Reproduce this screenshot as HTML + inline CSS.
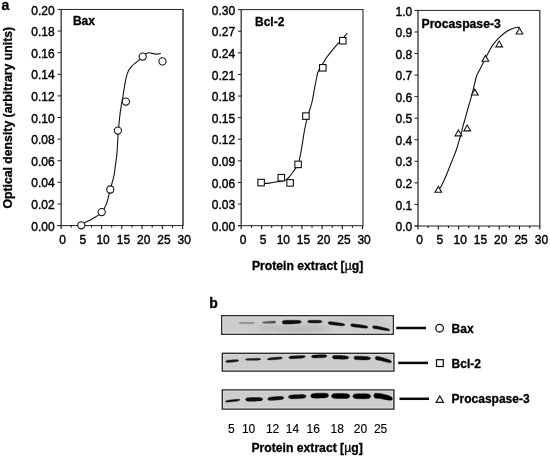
<!DOCTYPE html>
<html><head><meta charset="utf-8"><style>
html,body{margin:0;padding:0;background:#fff;}
body{width:550px;height:456px;overflow:hidden;}
svg{display:block;filter:grayscale(1);font-family:"Liberation Sans", sans-serif;fill:#111;}
svg text{fill:#000;stroke:#000;stroke-width:0.4px;} svg text[font-weight=bold]{stroke-width:0.3px;}
</style></head><body>
<svg width="550" height="456" viewBox="0 0 550 456">
<defs><filter id="bl" filterUnits="userSpaceOnUse" x="0" y="0" width="550" height="456"><feGaussianBlur stdDeviation="0.7"/></filter><filter id="bl2" filterUnits="userSpaceOnUse" x="0" y="0" width="550" height="456"><feGaussianBlur stdDeviation="0.5"/></filter></defs>
<rect width="550" height="456" fill="#fff"/>
<path d="M61.00,9.45 H183.00" fill="none" stroke="#222" stroke-width="1"/>
<path d="M183.00,8.95 V226.10" fill="none" stroke="#333" stroke-width="1.50"/>
<path d="M61.17,9.45 V229.10" fill="none" stroke="#333" stroke-width="1.3"/>
<path d="M57.50,225.60 H182.60" fill="none" stroke="#222" stroke-width="1"/>
<path d="M57.50,225.60 H61.00" stroke="#222" stroke-width="1"/>
<text x="54.60" y="230.70" text-anchor="end" font-size="12">0.00</text>
<path d="M57.50,203.98 H61.00" stroke="#222" stroke-width="1"/>
<text x="54.60" y="209.08" text-anchor="end" font-size="12">0.02</text>
<path d="M57.50,182.37 H61.00" stroke="#222" stroke-width="1"/>
<text x="54.60" y="187.47" text-anchor="end" font-size="12">0.04</text>
<path d="M57.50,160.75 H61.00" stroke="#222" stroke-width="1"/>
<text x="54.60" y="165.85" text-anchor="end" font-size="12">0.06</text>
<path d="M57.50,139.14 H61.00" stroke="#222" stroke-width="1"/>
<text x="54.60" y="144.24" text-anchor="end" font-size="12">0.08</text>
<path d="M57.50,117.52 H61.00" stroke="#222" stroke-width="1"/>
<text x="54.60" y="122.62" text-anchor="end" font-size="12">0.10</text>
<path d="M57.50,95.91 H61.00" stroke="#222" stroke-width="1"/>
<text x="54.60" y="101.01" text-anchor="end" font-size="12">0.12</text>
<path d="M57.50,74.29 H61.00" stroke="#222" stroke-width="1"/>
<text x="54.60" y="79.39" text-anchor="end" font-size="12">0.14</text>
<path d="M57.50,52.68 H61.00" stroke="#222" stroke-width="1"/>
<text x="54.60" y="57.78" text-anchor="end" font-size="12">0.16</text>
<path d="M57.50,31.06 H61.00" stroke="#222" stroke-width="1"/>
<text x="54.60" y="36.16" text-anchor="end" font-size="12">0.18</text>
<path d="M57.50,9.45 H61.00" stroke="#222" stroke-width="1"/>
<text x="54.60" y="14.55" text-anchor="end" font-size="12">0.20</text>
<text x="62.60" y="243.60" text-anchor="middle" font-size="12">0</text>
<path d="M71.13,225.60 V227.60" stroke="#111" stroke-width="1.1"/>
<path d="M81.27,225.60 V229.10" stroke="#111" stroke-width="1.1"/>
<text x="82.87" y="243.60" text-anchor="middle" font-size="12">5</text>
<path d="M91.40,225.60 V227.60" stroke="#111" stroke-width="1.1"/>
<path d="M101.53,225.60 V229.10" stroke="#111" stroke-width="1.1"/>
<text x="103.13" y="243.60" text-anchor="middle" font-size="12">10</text>
<path d="M111.67,225.60 V227.60" stroke="#111" stroke-width="1.1"/>
<path d="M121.80,225.60 V229.10" stroke="#111" stroke-width="1.1"/>
<text x="123.40" y="243.60" text-anchor="middle" font-size="12">15</text>
<path d="M131.93,225.60 V227.60" stroke="#111" stroke-width="1.1"/>
<path d="M142.07,225.60 V229.10" stroke="#111" stroke-width="1.1"/>
<text x="143.67" y="243.60" text-anchor="middle" font-size="12">20</text>
<path d="M152.20,225.60 V227.60" stroke="#111" stroke-width="1.1"/>
<path d="M162.33,225.60 V229.10" stroke="#111" stroke-width="1.1"/>
<text x="163.93" y="243.60" text-anchor="middle" font-size="12">25</text>
<path d="M172.47,225.60 V227.60" stroke="#111" stroke-width="1.1"/>
<path d="M182.60,225.60 V229.10" stroke="#111" stroke-width="1.1"/>
<text x="184.20" y="243.60" text-anchor="middle" font-size="12">30</text>
<text x="72.90" y="24.60" font-size="12.00" font-weight="bold">Bax</text>
<path d="M241.40,9.60 H363.00" fill="none" stroke="#222" stroke-width="1"/>
<path d="M363.00,9.10 V226.20" fill="none" stroke="#333" stroke-width="1.16"/>
<path d="M241.20,9.60 V229.20" fill="none" stroke="#333" stroke-width="1.3"/>
<path d="M237.90,225.70 H362.50" fill="none" stroke="#222" stroke-width="1"/>
<path d="M237.90,225.70 H241.40" stroke="#222" stroke-width="1"/>
<text x="235.20" y="230.80" text-anchor="end" font-size="12">0.00</text>
<path d="M237.90,204.09 H241.40" stroke="#222" stroke-width="1"/>
<text x="235.20" y="209.19" text-anchor="end" font-size="12">0.03</text>
<path d="M237.90,182.48 H241.40" stroke="#222" stroke-width="1"/>
<text x="235.20" y="187.58" text-anchor="end" font-size="12">0.06</text>
<path d="M237.90,160.87 H241.40" stroke="#222" stroke-width="1"/>
<text x="235.20" y="165.97" text-anchor="end" font-size="12">0.09</text>
<path d="M237.90,139.26 H241.40" stroke="#222" stroke-width="1"/>
<text x="235.20" y="144.36" text-anchor="end" font-size="12">0.12</text>
<path d="M237.90,117.65 H241.40" stroke="#222" stroke-width="1"/>
<text x="235.20" y="122.75" text-anchor="end" font-size="12">0.15</text>
<path d="M237.90,96.04 H241.40" stroke="#222" stroke-width="1"/>
<text x="235.20" y="101.14" text-anchor="end" font-size="12">0.18</text>
<path d="M237.90,74.43 H241.40" stroke="#222" stroke-width="1"/>
<text x="235.20" y="79.53" text-anchor="end" font-size="12">0.21</text>
<path d="M237.90,52.82 H241.40" stroke="#222" stroke-width="1"/>
<text x="235.20" y="57.92" text-anchor="end" font-size="12">0.24</text>
<path d="M237.90,31.21 H241.40" stroke="#222" stroke-width="1"/>
<text x="235.20" y="36.31" text-anchor="end" font-size="12">0.27</text>
<path d="M237.90,9.60 H241.40" stroke="#222" stroke-width="1"/>
<text x="235.20" y="14.70" text-anchor="end" font-size="12">0.30</text>
<text x="243.00" y="243.70" text-anchor="middle" font-size="12">0</text>
<path d="M251.49,225.70 V227.70" stroke="#111" stroke-width="1.1"/>
<path d="M261.58,225.70 V229.20" stroke="#111" stroke-width="1.1"/>
<text x="263.18" y="243.70" text-anchor="middle" font-size="12">5</text>
<path d="M271.68,225.70 V227.70" stroke="#111" stroke-width="1.1"/>
<path d="M281.77,225.70 V229.20" stroke="#111" stroke-width="1.1"/>
<text x="283.37" y="243.70" text-anchor="middle" font-size="12">10</text>
<path d="M291.86,225.70 V227.70" stroke="#111" stroke-width="1.1"/>
<path d="M301.95,225.70 V229.20" stroke="#111" stroke-width="1.1"/>
<text x="303.55" y="243.70" text-anchor="middle" font-size="12">15</text>
<path d="M312.04,225.70 V227.70" stroke="#111" stroke-width="1.1"/>
<path d="M322.13,225.70 V229.20" stroke="#111" stroke-width="1.1"/>
<text x="323.73" y="243.70" text-anchor="middle" font-size="12">20</text>
<path d="M332.23,225.70 V227.70" stroke="#111" stroke-width="1.1"/>
<path d="M342.32,225.70 V229.20" stroke="#111" stroke-width="1.1"/>
<text x="343.92" y="243.70" text-anchor="middle" font-size="12">25</text>
<path d="M352.41,225.70 V227.70" stroke="#111" stroke-width="1.1"/>
<path d="M362.50,225.70 V229.20" stroke="#111" stroke-width="1.1"/>
<text x="364.10" y="243.70" text-anchor="middle" font-size="12">30</text>
<text x="255.00" y="25.50" font-size="12.00" font-weight="bold">Bcl-2</text>
<path d="M418.00,10.40 H539.80" fill="none" stroke="#222" stroke-width="1"/>
<path d="M539.80,9.90 V226.50" fill="none" stroke="#333" stroke-width="1.25"/>
<path d="M418.00,10.40 V229.50" fill="none" stroke="#333" stroke-width="1.3"/>
<path d="M414.50,226.00 H539.80" fill="none" stroke="#222" stroke-width="1"/>
<path d="M414.50,226.00 H418.00" stroke="#222" stroke-width="1"/>
<text x="412.30" y="231.10" text-anchor="end" font-size="12">0.0</text>
<path d="M414.50,204.44 H418.00" stroke="#222" stroke-width="1"/>
<text x="412.30" y="209.54" text-anchor="end" font-size="12">0.1</text>
<path d="M414.50,182.88 H418.00" stroke="#222" stroke-width="1"/>
<text x="412.30" y="187.98" text-anchor="end" font-size="12">0.2</text>
<path d="M414.50,161.32 H418.00" stroke="#222" stroke-width="1"/>
<text x="412.30" y="166.42" text-anchor="end" font-size="12">0.3</text>
<path d="M414.50,139.76 H418.00" stroke="#222" stroke-width="1"/>
<text x="412.30" y="144.86" text-anchor="end" font-size="12">0.4</text>
<path d="M414.50,118.20 H418.00" stroke="#222" stroke-width="1"/>
<text x="412.30" y="123.30" text-anchor="end" font-size="12">0.5</text>
<path d="M414.50,96.64 H418.00" stroke="#222" stroke-width="1"/>
<text x="412.30" y="101.74" text-anchor="end" font-size="12">0.6</text>
<path d="M414.50,75.08 H418.00" stroke="#222" stroke-width="1"/>
<text x="412.30" y="80.18" text-anchor="end" font-size="12">0.7</text>
<path d="M414.50,53.52 H418.00" stroke="#222" stroke-width="1"/>
<text x="412.30" y="58.62" text-anchor="end" font-size="12">0.8</text>
<path d="M414.50,31.96 H418.00" stroke="#222" stroke-width="1"/>
<text x="412.30" y="37.06" text-anchor="end" font-size="12">0.9</text>
<path d="M414.50,10.40 H418.00" stroke="#222" stroke-width="1"/>
<text x="412.30" y="15.50" text-anchor="end" font-size="12">1.0</text>
<text x="419.60" y="244.00" text-anchor="middle" font-size="12">0</text>
<path d="M428.15,226.00 V228.00" stroke="#111" stroke-width="1.1"/>
<path d="M438.30,226.00 V229.50" stroke="#111" stroke-width="1.1"/>
<text x="439.90" y="244.00" text-anchor="middle" font-size="12">5</text>
<path d="M448.45,226.00 V228.00" stroke="#111" stroke-width="1.1"/>
<path d="M458.60,226.00 V229.50" stroke="#111" stroke-width="1.1"/>
<text x="460.20" y="244.00" text-anchor="middle" font-size="12">10</text>
<path d="M468.75,226.00 V228.00" stroke="#111" stroke-width="1.1"/>
<path d="M478.90,226.00 V229.50" stroke="#111" stroke-width="1.1"/>
<text x="480.50" y="244.00" text-anchor="middle" font-size="12">15</text>
<path d="M489.05,226.00 V228.00" stroke="#111" stroke-width="1.1"/>
<path d="M499.20,226.00 V229.50" stroke="#111" stroke-width="1.1"/>
<text x="500.80" y="244.00" text-anchor="middle" font-size="12">20</text>
<path d="M509.35,226.00 V228.00" stroke="#111" stroke-width="1.1"/>
<path d="M519.50,226.00 V229.50" stroke="#111" stroke-width="1.1"/>
<text x="521.10" y="244.00" text-anchor="middle" font-size="12">25</text>
<path d="M529.65,226.00 V228.00" stroke="#111" stroke-width="1.1"/>
<path d="M539.80,226.00 V229.50" stroke="#111" stroke-width="1.1"/>
<text x="541.40" y="244.00" text-anchor="middle" font-size="12">30</text>
<text x="421.50" y="27.60" font-size="12.20" font-weight="bold">Procaspase-3</text>
<path d="M81.30,225.30 C81.90,224.85 83.32,223.53 84.90,222.60 C86.48,221.67 88.62,220.90 90.80,219.70 C92.98,218.50 96.18,216.67 98.00,215.40 C99.82,214.13 100.65,213.23 101.70,212.10 C102.75,210.97 103.38,210.35 104.30,208.60 C105.22,206.85 106.20,204.78 107.20,201.60 C108.20,198.42 109.45,192.77 110.30,189.50 C111.15,186.23 111.67,184.42 112.30,182.00 C112.93,179.58 113.57,177.83 114.10,175.00 C114.63,172.17 115.05,168.33 115.50,165.00 C115.95,161.67 116.47,158.33 116.80,155.00 C117.13,151.67 117.27,148.67 117.50,145.00 C117.73,141.33 117.85,137.50 118.20,133.00 C118.55,128.50 119.15,122.18 119.60,118.00 C120.05,113.82 120.40,111.12 120.90,107.90 C121.40,104.68 122.05,101.98 122.60,98.70 C123.15,95.42 123.60,91.72 124.20,88.20 C124.80,84.68 125.47,80.53 126.20,77.60 C126.93,74.67 127.62,72.57 128.60,70.60 C129.58,68.63 130.87,67.15 132.10,65.80 C133.33,64.45 134.80,63.48 136.00,62.50 C137.20,61.52 138.18,60.88 139.30,59.90 C140.42,58.92 141.52,57.67 142.70,56.60 C143.88,55.53 145.35,54.15 146.40,53.50 C147.45,52.85 147.72,52.65 149.00,52.70 C150.28,52.75 152.80,53.57 154.10,53.80 C155.40,54.03 155.67,54.18 156.80,54.10 C157.93,54.02 160.22,53.43 160.90,53.30" fill="none" stroke="#111" stroke-width="1.1"/>
<path d="M264.50,183.40 C265.35,183.35 267.47,183.38 269.60,183.10 C271.73,182.82 275.12,182.05 277.30,181.70 C279.48,181.35 281.25,181.30 282.70,181.00 C284.15,180.70 284.90,180.60 286.00,179.90 C287.10,179.20 288.22,178.03 289.30,176.80 C290.38,175.57 291.45,173.90 292.50,172.50 C293.55,171.10 294.58,170.02 295.60,168.40 C296.62,166.78 297.68,165.63 298.60,162.80 C299.52,159.97 300.23,156.15 301.10,151.40 C301.97,146.65 303.02,138.87 303.80,134.30 C304.58,129.73 305.18,126.72 305.80,124.00 C306.42,121.28 306.92,120.13 307.50,118.00 C308.08,115.87 308.55,113.87 309.30,111.20 C310.05,108.53 311.12,105.83 312.00,102.00 C312.88,98.17 313.87,92.03 314.60,88.20 C315.33,84.37 315.87,81.62 316.40,79.00 C316.93,76.38 317.12,74.42 317.80,72.50 C318.48,70.58 319.65,69.00 320.50,67.50 C321.35,66.00 321.92,65.12 322.90,63.50 C323.88,61.88 325.08,59.70 326.40,57.80 C327.72,55.90 329.42,53.85 330.80,52.10 C332.18,50.35 333.38,48.83 334.70,47.30 C336.02,45.77 337.55,44.08 338.70,42.90 C339.85,41.72 340.70,41.22 341.60,40.20 C342.50,39.18 343.17,37.97 344.10,36.80 C345.03,35.63 346.68,33.80 347.20,33.20" fill="none" stroke="#111" stroke-width="1.1"/>
<path d="M439.00,189.40 C439.43,188.73 440.37,187.80 441.60,185.40 C442.83,183.00 444.75,178.90 446.40,175.00 C448.05,171.10 449.85,166.17 451.50,162.00 C453.15,157.83 455.02,153.62 456.30,150.00 C457.58,146.38 458.33,143.22 459.20,140.30 C460.07,137.38 460.90,134.78 461.50,132.50 C462.10,130.22 462.25,128.68 462.80,126.60 C463.35,124.52 464.02,122.77 464.80,120.00 C465.58,117.23 466.37,114.03 467.50,110.00 C468.63,105.97 470.60,99.38 471.60,95.80 C472.60,92.22 472.67,91.80 473.50,88.50 C474.33,85.20 475.43,79.38 476.60,76.00 C477.77,72.62 479.30,70.60 480.50,68.20 C481.70,65.80 482.70,63.80 483.80,61.60 C484.90,59.40 485.88,57.30 487.10,55.00 C488.32,52.70 490.00,49.67 491.10,47.80 C492.20,45.93 492.40,45.45 493.70,43.80 C495.00,42.15 497.15,39.65 498.90,37.90 C500.65,36.15 502.55,34.58 504.20,33.30 C505.85,32.02 507.25,31.05 508.80,30.20 C510.35,29.35 512.12,28.67 513.50,28.20 C514.88,27.73 516.05,27.57 517.10,27.40 C518.15,27.23 519.35,27.23 519.80,27.20" fill="none" stroke="#111" stroke-width="1.1"/>
<circle cx="81.30" cy="225.30" r="3.6" fill="#fff" stroke="#111" stroke-width="1.1"/>
<circle cx="101.70" cy="212.10" r="3.6" fill="#fff" stroke="#111" stroke-width="1.1"/>
<circle cx="110.30" cy="189.50" r="3.6" fill="#fff" stroke="#111" stroke-width="1.1"/>
<circle cx="117.90" cy="130.60" r="3.6" fill="#fff" stroke="#111" stroke-width="1.1"/>
<circle cx="125.90" cy="101.60" r="3.6" fill="#fff" stroke="#111" stroke-width="1.1"/>
<circle cx="142.70" cy="56.60" r="3.6" fill="#fff" stroke="#111" stroke-width="1.1"/>
<circle cx="162.50" cy="61.40" r="3.6" fill="#fff" stroke="#111" stroke-width="1.1"/>
<rect x="257.85" y="179.35" width="6.5" height="6.5" fill="#fff" stroke="#111" stroke-width="1.1"/>
<rect x="278.05" y="174.45" width="6.5" height="6.5" fill="#fff" stroke="#111" stroke-width="1.1"/>
<rect x="286.85" y="179.65" width="6.5" height="6.5" fill="#fff" stroke="#111" stroke-width="1.1"/>
<rect x="294.85" y="161.15" width="6.5" height="6.5" fill="#fff" stroke="#111" stroke-width="1.1"/>
<rect x="302.65" y="112.85" width="6.5" height="6.5" fill="#fff" stroke="#111" stroke-width="1.1"/>
<rect x="319.55" y="64.55" width="6.5" height="6.5" fill="#fff" stroke="#111" stroke-width="1.1"/>
<rect x="339.55" y="37.45" width="6.5" height="6.5" fill="#fff" stroke="#111" stroke-width="1.1"/>
<path d="M438.30,186.45 L434.95,192.30 L441.65,192.30 Z" fill="#fff" stroke="#111" stroke-width="1.1" stroke-linejoin="miter"/>
<path d="M458.40,130.00 L455.05,135.85 L461.75,135.85 Z" fill="#fff" stroke="#111" stroke-width="1.1" stroke-linejoin="miter"/>
<path d="M467.20,125.00 L463.85,130.85 L470.55,130.85 Z" fill="#fff" stroke="#111" stroke-width="1.1" stroke-linejoin="miter"/>
<path d="M474.80,89.20 L471.45,95.05 L478.15,95.05 Z" fill="#fff" stroke="#111" stroke-width="1.1" stroke-linejoin="miter"/>
<path d="M485.40,55.40 L482.05,61.25 L488.75,61.25 Z" fill="#fff" stroke="#111" stroke-width="1.1" stroke-linejoin="miter"/>
<path d="M499.20,41.00 L495.85,46.85 L502.55,46.85 Z" fill="#fff" stroke="#111" stroke-width="1.1" stroke-linejoin="miter"/>
<path d="M519.50,28.10 L516.15,33.95 L522.85,33.95 Z" fill="#fff" stroke="#111" stroke-width="1.1" stroke-linejoin="miter"/>
<text x="1.5" y="10" font-size="14" font-weight="bold">a</text>
<text transform="translate(11.75,208.6) rotate(-90)" font-size="12.25" font-weight="bold">Optical density (arbitrary units)</text>
<text x="251.9" y="269.7" font-size="12.2" font-weight="bold">Protein extract [<tspan font-weight="normal">µ</tspan>g]</text>
<text x="209.3" y="308" font-size="14" font-weight="bold">b</text>
<rect x="221.75" y="315.75" width="171.50" height="18.50" fill="#cdcdcd" stroke="#2e2e2e" stroke-width="1.5"/>
<rect x="223.00" y="317.00" width="169.00" height="16.00" fill="none" stroke="#dcdcdc" stroke-width="1"/>
<path d="M396.20,328.00 H426.00" stroke="#0a0a0a" stroke-width="2.5"/>
<circle cx="439.60" cy="328.20" r="3.8" fill="#fff" stroke="#111" stroke-width="1.3"/>
<text x="451.6" y="332.60" font-size="12" font-weight="bold">Bax</text>
<rect x="222.35" y="353.35" width="171.50" height="17.70" fill="#cdcdcd" stroke="#2e2e2e" stroke-width="1.5"/>
<rect x="223.60" y="354.60" width="169.00" height="15.20" fill="none" stroke="#dcdcdc" stroke-width="1"/>
<path d="M398.20,362.90 H428.00" stroke="#0a0a0a" stroke-width="2.5"/>
<rect x="436.50" y="359.70" width="6.8" height="6.8" fill="#fff" stroke="#111" stroke-width="1.25"/>
<text x="451.6" y="367.60" font-size="12" font-weight="bold">Bcl-2</text>
<rect x="222.35" y="389.95" width="171.50" height="19.10" fill="#cdcdcd" stroke="#2e2e2e" stroke-width="1.5"/>
<rect x="223.60" y="391.20" width="169.00" height="16.60" fill="none" stroke="#dcdcdc" stroke-width="1"/>
<path d="M399.50,398.80 H429.00" stroke="#0a0a0a" stroke-width="2.5"/>
<path d="M439.80,396.00 L436.20,402.30 L443.40,402.30 Z" fill="#fff" stroke="#111" stroke-width="1.2"/>
<text x="451.6" y="403.20" font-size="12" font-weight="bold">Procaspase-3</text>
<filter id="sm" filterUnits="userSpaceOnUse" x="0" y="0" width="550" height="456"><feGaussianBlur stdDeviation="2.2"/></filter>
<clipPath id="cb1"><rect x="222.5" y="316.5" width="170" height="17"/></clipPath>
<g clip-path="url(#cb1)"><g filter="url(#sm)" opacity="0.55"><ellipse cx="300" cy="329" rx="30" ry="3.5" fill="#a8a8a8"/><ellipse cx="268" cy="328" rx="10" ry="3" fill="#b0b0b0"/><ellipse cx="355" cy="319" rx="25" ry="2" fill="#b8b8b8"/></g></g>
<rect x="222.5" y="316.5" width="170" height="17" fill="none" stroke="#2e2e2e" stroke-width="0"/>
<path d="M238.80,323.10 L239.79,322.55 L240.79,322.43 L241.78,322.36 L242.78,322.32 L243.77,322.30 L244.76,322.28 L245.76,322.26 L246.75,322.25 L247.74,322.24 L248.74,322.23 L249.73,322.22 L250.72,322.22 L251.72,322.24 L252.71,322.28 L253.71,322.37 L254.70,322.90 L254.70,322.90 L253.71,323.45 L252.71,323.57 L251.72,323.64 L250.72,323.68 L249.73,323.70 L248.74,323.72 L247.74,323.74 L246.75,323.75 L245.76,323.76 L244.76,323.77 L243.77,323.78 L242.78,323.78 L241.78,323.76 L240.79,323.72 L239.79,323.63 L238.80,323.10 Z" fill="#8c8c8c" stroke="#8c8c8c" stroke-width="0.4" stroke-linejoin="round" filter="url(#bl2)"/>
<path d="M262.00,322.60 L262.88,322.21 L263.75,321.99 L264.62,321.80 L265.50,321.64 L266.38,321.51 L267.25,321.39 L268.12,321.30 L269.00,321.23 L269.88,321.17 L270.75,321.13 L271.62,321.09 L272.50,321.05 L273.38,321.02 L274.25,321.02 L275.12,321.10 L276.00,322.00 L276.00,322.00 L275.12,322.97 L274.25,323.13 L273.38,323.20 L272.50,323.25 L271.62,323.29 L270.75,323.32 L269.88,323.35 L269.00,323.37 L268.12,323.37 L267.25,323.36 L266.38,323.32 L265.50,323.26 L264.62,323.18 L263.75,323.06 L262.88,322.91 L262.00,322.60 Z" fill="#555" stroke="#555" stroke-width="0.4" stroke-linejoin="round" filter="url(#bl2)"/>
<path d="M282.10,322.30 L283.31,320.52 L284.53,320.41 L285.74,320.36 L286.95,320.33 L288.16,320.29 L289.38,320.26 L290.59,320.24 L291.80,320.21 L293.01,320.20 L294.23,320.20 L295.44,320.22 L296.65,320.27 L297.86,320.34 L299.07,320.47 L300.29,320.69 L301.50,321.80 L301.50,321.80 L300.29,322.97 L299.07,323.26 L297.86,323.45 L296.65,323.58 L295.44,323.69 L294.23,323.77 L293.01,323.83 L291.80,323.89 L290.59,323.93 L289.38,323.96 L288.16,323.99 L286.95,324.02 L285.74,324.05 L284.53,324.06 L283.31,324.01 L282.10,322.30 Z" fill="#0c0c0c" stroke="#0c0c0c" stroke-width="0.4" stroke-linejoin="round" filter="url(#bl2)"/>
<path d="M307.50,321.60 L308.42,320.53 L309.34,320.37 L310.26,320.30 L311.18,320.27 L312.09,320.25 L313.01,320.25 L313.93,320.25 L314.85,320.25 L315.77,320.25 L316.69,320.26 L317.61,320.28 L318.52,320.31 L319.44,320.37 L320.36,320.47 L321.28,320.67 L322.20,321.60 L322.20,321.60 L321.28,322.53 L320.36,322.73 L319.44,322.83 L318.52,322.89 L317.61,322.92 L316.69,322.94 L315.77,322.95 L314.85,322.95 L313.93,322.95 L313.01,322.95 L312.09,322.95 L311.18,322.93 L310.26,322.90 L309.34,322.83 L308.42,322.67 L307.50,321.60 Z" fill="#141414" stroke="#141414" stroke-width="0.4" stroke-linejoin="round" filter="url(#bl2)"/>
<path d="M327.90,322.80 L328.97,321.63 L330.05,321.67 L331.12,321.77 L332.20,321.90 L333.27,322.04 L334.35,322.18 L335.43,322.31 L336.50,322.45 L337.57,322.60 L338.65,322.76 L339.73,322.93 L340.80,323.12 L341.88,323.33 L342.95,323.59 L344.03,323.93 L345.10,325.00 L345.10,325.00 L344.03,325.79 L342.95,325.86 L341.88,325.84 L340.80,325.78 L339.73,325.70 L338.65,325.59 L337.57,325.47 L336.50,325.35 L335.43,325.21 L334.35,325.07 L333.27,324.94 L332.20,324.80 L331.12,324.65 L330.05,324.48 L328.97,324.25 L327.90,322.80 Z" fill="#111" stroke="#111" stroke-width="0.4" stroke-linejoin="round" filter="url(#bl2)"/>
<path d="M350.50,325.00 L351.59,323.85 L352.69,323.86 L353.78,323.94 L354.88,324.06 L355.97,324.19 L357.06,324.33 L358.16,324.46 L359.25,324.60 L360.34,324.74 L361.44,324.90 L362.53,325.06 L363.62,325.24 L364.72,325.46 L365.81,325.71 L366.91,326.06 L368.00,327.20 L368.00,327.20 L366.91,328.06 L365.81,328.14 L364.72,328.12 L363.62,328.06 L362.53,327.96 L361.44,327.85 L360.34,327.73 L359.25,327.60 L358.16,327.46 L357.06,327.32 L355.97,327.19 L354.88,327.04 L353.78,326.88 L352.69,326.69 L351.59,326.42 L350.50,325.00 Z" fill="#111" stroke="#111" stroke-width="0.4" stroke-linejoin="round" filter="url(#bl2)"/>
<path d="M372.40,327.00 L373.49,325.69 L374.57,325.80 L375.66,325.93 L376.75,326.05 L377.84,326.20 L378.93,326.43 L380.01,326.66 L381.10,326.90 L382.19,327.15 L383.27,327.42 L384.36,327.69 L385.45,327.98 L386.54,328.29 L387.62,328.64 L388.71,329.06 L389.80,330.10 L389.80,330.10 L388.71,330.69 L387.62,330.67 L386.54,330.57 L385.45,330.43 L384.36,330.28 L383.27,330.11 L382.19,329.92 L381.10,329.73 L380.01,329.52 L378.93,329.31 L377.84,329.09 L376.75,328.95 L375.66,328.82 L374.57,328.70 L373.49,328.56 L372.40,327.00 Z" fill="#111" stroke="#111" stroke-width="0.4" stroke-linejoin="round" filter="url(#bl2)"/>
<path d="M225.70,361.50 L226.52,360.40 L227.34,360.26 L228.16,360.17 L228.97,360.10 L229.79,360.04 L230.61,359.98 L231.43,359.91 L232.25,359.85 L233.07,359.80 L233.89,359.75 L234.71,359.72 L235.53,359.69 L236.34,359.69 L237.16,359.73 L237.98,359.83 L238.80,360.50 L238.80,360.50 L237.98,361.30 L237.16,361.52 L236.34,361.68 L235.53,361.81 L234.71,361.91 L233.89,362.00 L233.07,362.08 L232.25,362.15 L231.43,362.21 L230.61,362.27 L229.79,362.34 L228.97,362.40 L228.16,362.45 L227.34,362.49 L226.52,362.48 L225.70,361.50 Z" fill="#1e1e1e" stroke="#1e1e1e" stroke-width="0.4" stroke-linejoin="round" filter="url(#bl2)"/>
<path d="M245.40,359.50 L246.37,358.80 L247.34,358.65 L248.31,358.56 L249.28,358.50 L250.24,358.47 L251.21,358.44 L252.18,358.42 L253.15,358.40 L254.12,358.38 L255.09,358.36 L256.06,358.35 L257.02,358.35 L257.99,358.37 L258.96,358.42 L259.93,358.53 L260.90,359.20 L260.90,359.20 L259.93,359.90 L258.96,360.05 L257.99,360.14 L257.02,360.20 L256.06,360.23 L255.09,360.26 L254.12,360.28 L253.15,360.30 L252.18,360.32 L251.21,360.34 L250.24,360.35 L249.28,360.35 L248.31,360.33 L247.34,360.28 L246.37,360.17 L245.40,359.50 Z" fill="#1e1e1e" stroke="#1e1e1e" stroke-width="0.4" stroke-linejoin="round" filter="url(#bl2)"/>
<path d="M267.10,359.20 L268.06,358.42 L269.03,358.16 L269.99,357.98 L270.95,357.84 L271.91,357.72 L272.88,357.62 L273.84,357.53 L274.80,357.45 L275.76,357.37 L276.73,357.29 L277.69,357.21 L278.65,357.14 L279.61,357.10 L280.57,357.09 L281.54,357.16 L282.50,357.90 L282.50,357.90 L281.54,358.81 L280.57,359.04 L279.61,359.19 L278.65,359.31 L277.69,359.40 L276.73,359.49 L275.76,359.57 L274.80,359.65 L273.84,359.73 L272.88,359.80 L271.91,359.86 L270.95,359.91 L269.99,359.93 L269.03,359.91 L268.06,359.82 L267.10,359.20 Z" fill="#151515" stroke="#151515" stroke-width="0.4" stroke-linejoin="round" filter="url(#bl2)"/>
<path d="M288.70,357.60 L289.74,356.47 L290.79,356.25 L291.83,356.11 L292.88,356.02 L293.92,355.94 L294.96,355.88 L296.01,355.81 L297.05,355.75 L298.09,355.69 L299.14,355.63 L300.18,355.59 L301.22,355.56 L302.27,355.56 L303.31,355.60 L304.36,355.73 L305.40,356.60 L305.40,356.60 L304.36,357.60 L303.31,357.85 L302.27,358.02 L301.22,358.14 L300.18,358.24 L299.14,358.32 L298.09,358.39 L297.05,358.45 L296.01,358.51 L294.96,358.57 L293.92,358.63 L292.88,358.68 L291.83,358.71 L290.79,358.70 L289.74,358.61 L288.70,357.60 Z" fill="#0e0e0e" stroke="#0e0e0e" stroke-width="0.4" stroke-linejoin="round" filter="url(#bl2)"/>
<path d="M311.30,356.60 L312.28,355.48 L313.26,355.24 L314.24,355.09 L315.23,355.00 L316.21,354.93 L317.19,354.88 L318.17,354.84 L319.15,354.80 L320.13,354.76 L321.11,354.73 L322.09,354.70 L323.07,354.70 L324.06,354.72 L325.04,354.79 L326.02,354.96 L327.00,356.00 L327.00,356.00 L326.02,357.12 L325.04,357.36 L324.06,357.51 L323.07,357.60 L322.09,357.67 L321.11,357.72 L320.13,357.76 L319.15,357.80 L318.17,357.84 L317.19,357.87 L316.21,357.90 L315.23,357.90 L314.24,357.88 L313.26,357.81 L312.28,357.64 L311.30,356.60 Z" fill="#0a0a0a" stroke="#0a0a0a" stroke-width="0.4" stroke-linejoin="round" filter="url(#bl2)"/>
<path d="M332.30,357.10 L333.34,355.50 L334.38,355.41 L335.41,355.41 L336.45,355.43 L337.49,355.46 L338.52,355.49 L339.56,355.52 L340.60,355.56 L341.64,355.60 L342.68,355.66 L343.71,355.73 L344.75,355.82 L345.79,355.95 L346.82,356.13 L347.86,356.42 L348.90,357.60 L348.90,357.60 L347.86,358.72 L346.82,358.94 L345.79,359.06 L344.75,359.13 L343.71,359.16 L342.68,359.17 L341.64,359.16 L340.60,359.14 L339.56,359.12 L338.52,359.09 L337.49,359.06 L336.45,359.02 L335.41,358.98 L334.38,358.91 L333.34,358.76 L332.30,357.10 Z" fill="#0a0a0a" stroke="#0a0a0a" stroke-width="0.4" stroke-linejoin="round" filter="url(#bl2)"/>
<path d="M353.80,357.80 L354.86,356.21 L355.91,356.13 L356.97,356.13 L358.02,356.15 L359.08,356.19 L360.14,356.23 L361.19,356.26 L362.25,356.31 L363.31,356.36 L364.36,356.42 L365.42,356.50 L366.48,356.60 L367.53,356.73 L368.59,356.92 L369.64,357.21 L370.70,358.40 L370.70,358.40 L369.64,359.52 L368.59,359.73 L367.53,359.84 L366.48,359.90 L365.42,359.93 L364.36,359.93 L363.31,359.92 L362.25,359.89 L361.19,359.86 L360.14,359.82 L359.08,359.79 L358.02,359.75 L356.97,359.70 L355.91,359.62 L354.86,359.47 L353.80,357.80 Z" fill="#0a0a0a" stroke="#0a0a0a" stroke-width="0.4" stroke-linejoin="round" filter="url(#bl2)"/>
<path d="M375.00,357.90 L376.04,356.43 L377.07,356.53 L378.11,356.69 L379.15,356.86 L380.19,357.04 L381.23,357.27 L382.26,357.56 L383.30,357.86 L384.34,358.16 L385.38,358.48 L386.41,358.82 L387.45,359.18 L388.49,359.57 L389.53,360.00 L390.56,360.53 L391.60,361.90 L391.60,361.90 L390.56,362.69 L389.53,362.64 L388.49,362.50 L387.45,362.32 L386.41,362.10 L385.38,361.86 L384.34,361.60 L383.30,361.33 L382.26,361.05 L381.23,360.76 L380.19,360.54 L379.15,360.36 L378.11,360.18 L377.07,359.98 L376.04,359.73 L375.00,357.90 Z" fill="#0a0a0a" stroke="#0a0a0a" stroke-width="0.4" stroke-linejoin="round" filter="url(#bl2)"/>
<path d="M225.30,401.50 L226.22,400.71 L227.14,400.47 L228.06,400.30 L228.98,400.15 L229.89,400.03 L230.81,399.91 L231.73,399.81 L232.65,399.70 L233.57,399.59 L234.49,399.49 L235.41,399.39 L236.32,399.30 L237.24,399.23 L238.16,399.20 L239.08,399.22 L240.00,399.80 L240.00,399.80 L239.08,400.59 L238.16,400.83 L237.24,401.00 L236.32,401.15 L235.41,401.27 L234.49,401.39 L233.57,401.49 L232.65,401.60 L231.73,401.71 L230.81,401.81 L229.89,401.91 L228.98,402.00 L228.06,402.07 L227.14,402.10 L226.22,402.08 L225.30,401.50 Z" fill="#111" stroke="#111" stroke-width="0.4" stroke-linejoin="round" filter="url(#bl2)"/>
<path d="M245.50,399.50 L246.59,398.05 L247.68,397.83 L248.76,397.71 L249.85,397.65 L250.94,397.61 L252.02,397.59 L253.11,397.57 L254.20,397.55 L255.29,397.53 L256.38,397.52 L257.46,397.53 L258.55,397.56 L259.64,397.62 L260.72,397.74 L261.81,397.97 L262.90,399.20 L262.90,399.20 L261.81,400.47 L260.72,400.74 L259.64,400.89 L258.55,400.99 L257.46,401.06 L256.38,401.10 L255.29,401.13 L254.20,401.15 L253.11,401.17 L252.02,401.19 L250.94,401.20 L249.85,401.20 L248.76,401.18 L247.68,401.10 L246.59,400.91 L245.50,399.50 Z" fill="#080808" stroke="#080808" stroke-width="0.4" stroke-linejoin="round" filter="url(#bl2)"/>
<path d="M267.60,399.00 L268.62,397.70 L269.64,397.39 L270.66,397.19 L271.68,397.05 L272.69,396.94 L273.71,396.85 L274.73,396.78 L275.75,396.70 L276.77,396.63 L277.79,396.55 L278.81,396.49 L279.82,396.45 L280.84,396.44 L281.86,396.49 L282.88,396.65 L283.90,397.80 L283.90,397.80 L282.88,399.10 L281.86,399.41 L280.84,399.61 L279.82,399.75 L278.81,399.86 L277.79,399.95 L276.77,400.02 L275.75,400.10 L274.73,400.17 L273.71,400.25 L272.69,400.31 L271.68,400.35 L270.66,400.36 L269.64,400.31 L268.62,400.15 L267.60,399.00 Z" fill="#080808" stroke="#080808" stroke-width="0.4" stroke-linejoin="round" filter="url(#bl2)"/>
<path d="M288.30,397.00 L289.43,395.55 L290.55,395.24 L291.68,395.05 L292.80,394.93 L293.93,394.85 L295.05,394.79 L296.18,394.74 L297.30,394.70 L298.43,394.66 L299.55,394.62 L300.68,394.59 L301.80,394.58 L302.93,394.62 L304.05,394.71 L305.18,394.94 L306.30,396.30 L306.30,396.30 L305.18,397.75 L304.05,398.06 L302.93,398.25 L301.80,398.37 L300.68,398.45 L299.55,398.51 L298.43,398.56 L297.30,398.60 L296.18,398.64 L295.05,398.68 L293.93,398.71 L292.80,398.72 L291.68,398.68 L290.55,398.59 L289.43,398.36 L288.30,397.00 Z" fill="#080808" stroke="#080808" stroke-width="0.4" stroke-linejoin="round" filter="url(#bl2)"/>
<path d="M310.60,395.90 L311.73,394.10 L312.86,393.73 L313.99,393.53 L315.12,393.40 L316.26,393.32 L317.39,393.27 L318.52,393.23 L319.65,393.20 L320.78,393.17 L321.91,393.14 L323.04,393.13 L324.18,393.15 L325.31,393.21 L326.44,393.36 L327.57,393.67 L328.70,395.40 L328.70,395.40 L327.57,397.20 L326.44,397.57 L325.31,397.77 L324.18,397.90 L323.04,397.98 L321.91,398.03 L320.78,398.07 L319.65,398.10 L318.52,398.13 L317.39,398.16 L316.26,398.17 L315.12,398.15 L313.99,398.09 L312.86,397.94 L311.73,397.63 L310.60,395.90 Z" fill="#060606" stroke="#060606" stroke-width="0.4" stroke-linejoin="round" filter="url(#bl2)"/>
<path d="M331.30,396.00 L332.47,394.21 L333.64,393.86 L334.81,393.69 L335.98,393.60 L337.14,393.56 L338.31,393.54 L339.48,393.54 L340.65,393.55 L341.82,393.56 L342.99,393.57 L344.16,393.60 L345.32,393.65 L346.49,393.75 L347.66,393.94 L348.83,394.29 L350.00,396.10 L350.00,396.10 L348.83,397.89 L347.66,398.24 L346.49,398.41 L345.32,398.50 L344.16,398.54 L342.99,398.56 L341.82,398.56 L340.65,398.55 L339.48,398.54 L338.31,398.53 L337.14,398.50 L335.98,398.45 L334.81,398.35 L333.64,398.16 L332.47,397.81 L331.30,396.00 Z" fill="#060606" stroke="#060606" stroke-width="0.4" stroke-linejoin="round" filter="url(#bl2)"/>
<path d="M352.70,396.20 L353.84,394.41 L354.97,394.06 L356.11,393.89 L357.25,393.80 L358.39,393.76 L359.52,393.74 L360.66,393.74 L361.80,393.75 L362.94,393.76 L364.07,393.77 L365.21,393.80 L366.35,393.85 L367.49,393.95 L368.62,394.14 L369.76,394.49 L370.90,396.30 L370.90,396.30 L369.76,398.09 L368.62,398.44 L367.49,398.61 L366.35,398.70 L365.21,398.74 L364.07,398.76 L362.94,398.76 L361.80,398.75 L360.66,398.74 L359.52,398.73 L358.39,398.70 L357.25,398.65 L356.11,398.55 L354.97,398.36 L353.84,398.01 L352.70,396.20 Z" fill="#060606" stroke="#060606" stroke-width="0.4" stroke-linejoin="round" filter="url(#bl2)"/>
<path d="M373.60,395.60 L374.79,393.41 L375.99,393.32 L377.18,393.33 L378.38,393.39 L379.57,393.46 L380.76,393.61 L381.96,393.88 L383.15,394.15 L384.34,394.44 L385.54,394.74 L386.73,395.07 L387.93,395.43 L389.12,395.83 L390.31,396.31 L391.51,396.93 L392.70,398.80 L392.70,398.80 L391.51,400.13 L390.31,400.21 L389.12,400.15 L387.93,400.02 L386.73,399.84 L385.54,399.63 L384.34,399.39 L383.15,399.14 L381.96,398.88 L380.76,398.61 L379.57,398.46 L378.38,398.38 L377.18,398.30 L375.99,398.17 L374.79,397.93 L373.60,395.60 Z" fill="#060606" stroke="#060606" stroke-width="0.4" stroke-linejoin="round" filter="url(#bl2)"/>
<text x="231.40" y="433.0" text-anchor="middle" font-size="12" style="stroke-width:0.15px">5</text>
<text x="248.60" y="433.0" text-anchor="middle" font-size="12" style="stroke-width:0.15px">10</text>
<text x="272.60" y="433.0" text-anchor="middle" font-size="12" style="stroke-width:0.15px">12</text>
<text x="292.40" y="433.0" text-anchor="middle" font-size="12" style="stroke-width:0.15px">14</text>
<text x="313.30" y="433.0" text-anchor="middle" font-size="12" style="stroke-width:0.15px">16</text>
<text x="337.20" y="433.0" text-anchor="middle" font-size="12" style="stroke-width:0.15px">18</text>
<text x="360.50" y="433.0" text-anchor="middle" font-size="12" style="stroke-width:0.15px">20</text>
<text x="380.60" y="433.0" text-anchor="middle" font-size="12" style="stroke-width:0.15px">25</text>
<text x="251.4" y="452.4" font-size="12.2" font-weight="bold">Protein extract [<tspan font-weight="normal">µ</tspan>g]</text>
</svg>
</body></html>
